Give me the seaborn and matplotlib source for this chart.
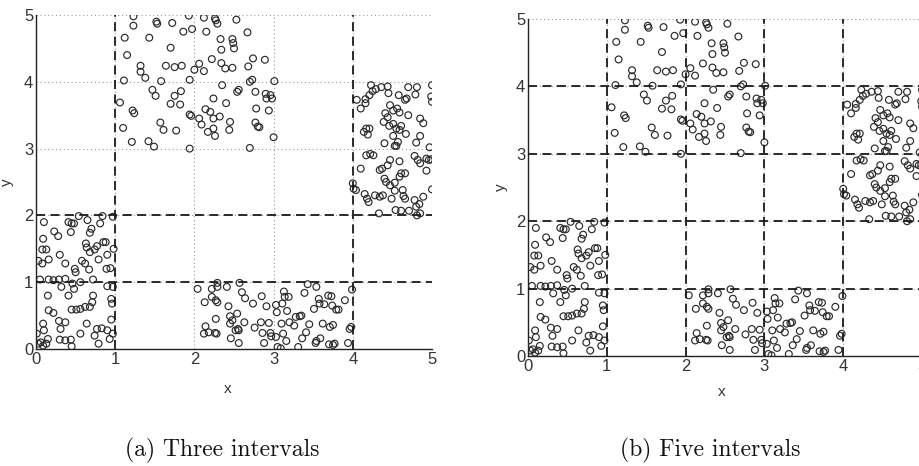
import matplotlib
matplotlib.use("Agg")
import matplotlib.pyplot as plt
import seaborn as sns
import pandas as pd

# ---- data ----
a_x = [0.10, 0.23, 0.28, 0.09, 0.41, 0.45, 0.48, 0.54, 0.65, 0.70, 0.81, 0.84, 0.97, 0.44, 0.68,
       0.08, 0.13, 0.03, 0.08, 0.16, 0.30, 0.37, 0.49, 0.50, 0.58, 0.62, 0.63, 0.64, 0.67, 0.68,
       0.74, 0.77, 0.79, 0.85, 0.88, 0.90, 0.89, 0.94, 0.98, 0.05, 0.16, 0.22, 0.29, 0.37, 0.32,
       0.46, 0.56, 0.72, 0.15, 0.41, 0.48, 0.72, 0.90, 0.97, 0.95, 0.96, 0.45, 0.51, 0.56, 0.62,
       0.68, 0.71, 0.16, 0.22, 0.09, 0.10, 0.29, 0.31, 0.37, 0.30, 0.37, 0.44, 0.45, 0.56, 0.64,
       0.74, 0.77, 0.83, 0.90, 0.79, 0.95, 0.97, 0.03, 0.09, 0.13, 0.15, 0.06, 0.93, 0.01]
a_y = [1.90, 1.76, 1.69, 1.65, 1.90, 1.88, 1.88, 1.99, 1.93, 1.80, 1.88, 1.99, 1.98, 1.75, 1.74,
       1.49, 1.49, 1.32, 1.28, 1.34, 1.41, 1.28, 1.20, 1.15, 1.32, 1.28, 1.58, 1.52, 1.19, 1.45,
       1.49, 1.54, 1.34, 1.60, 1.60, 1.41, 1.20, 1.21, 1.50, 1.04, 1.04, 1.03, 1.04, 1.05, 0.93,
       0.98, 1.00, 1.04, 0.80, 0.80, 0.90, 0.80, 0.94, 0.93, 0.75, 0.68, 0.59, 0.59, 0.60, 0.63,
       0.63, 0.70, 0.58, 0.54, 0.38, 0.28, 0.42, 0.30, 0.40, 0.14, 0.13, 0.14, 0.04, 0.23, 0.38,
       0.20, 0.30, 0.31, 0.28, 0.08, 0.44, 0.23, 0.08, 0.05, 0.08, 0.15, 0.10, 0.15, 0.23]

b_x = [1.23, 1.23, 1.52, 1.53, 1.72, 1.93, 2.12, 2.26, 2.27, 2.29, 2.53, 1.86, 1.97, 2.15, 2.67,
       1.12, 1.43, 2.33, 2.48, 2.49, 2.50, 1.15, 1.70, 2.34, 2.74, 2.89, 1.32, 1.64, 1.75, 1.84,
       2.00, 2.06, 2.22, 2.34, 2.39, 2.48, 2.68, 1.32, 1.38, 1.11, 1.58, 1.94, 2.12, 2.70, 2.73,
       3.01, 1.47, 1.51, 1.75, 1.83, 2.35, 2.56, 2.54, 2.77, 2.24, 2.40, 2.90, 2.91, 2.96, 2.98,
       1.06, 1.22, 1.24, 1.70, 1.82, 1.94, 1.96, 2.06, 2.09, 2.14, 2.20, 2.24, 2.32, 2.45, 2.78,
       2.94, 1.10, 1.57, 1.61, 1.77, 2.24, 2.26, 2.44, 2.77, 2.80, 2.82, 3.00, 1.21, 1.42, 1.49,
       1.94, 2.70, 2.17]
b_y = [4.98, 4.84, 4.90, 4.87, 4.88, 4.99, 4.96, 4.95, 4.92, 4.87, 4.93, 4.75, 4.79, 4.75, 4.74,
       4.66, 4.66, 4.64, 4.64, 4.58, 4.50, 4.40, 4.51, 4.48, 4.35, 4.33, 4.24, 4.24, 4.22, 4.24,
       4.18, 4.27, 4.34, 4.28, 4.20, 4.21, 4.23, 4.15, 4.06, 4.02, 4.01, 4.03, 4.16, 4.00, 4.03,
       4.01, 3.88, 3.79, 3.79, 3.86, 3.95, 3.88, 3.85, 3.85, 3.75, 3.68, 3.82, 3.75, 3.80, 3.75,
       3.69, 3.57, 3.53, 3.67, 3.66, 3.51, 3.49, 3.45, 3.36, 3.59, 3.55, 3.45, 3.48, 3.40, 3.60,
       3.57, 3.31, 3.39, 3.28, 3.27, 3.30, 3.19, 3.28, 3.39, 3.33, 3.32, 3.17, 3.10, 3.11, 3.03,
       3.00, 3.01, 3.25]

c_x = [4.05, 4.10, 4.16, 4.16, 4.21, 4.25, 4.29, 4.23, 4.36, 4.44, 4.45, 4.58, 4.66, 4.68, 4.70,
       4.81, 4.79, 5.00, 4.99, 5.00, 4.47, 4.41, 4.44, 4.51, 4.56, 4.59, 4.70, 4.85, 4.89, 4.14,
       4.17, 4.19, 4.21, 4.39, 4.46, 4.51, 4.55, 4.59, 4.61, 4.67, 4.85, 4.51, 4.40, 4.53, 4.55,
       4.57, 4.80, 4.97, 4.17, 4.22, 4.26, 4.47, 4.59, 4.78, 4.82, 4.85, 4.93, 4.96, 4.99, 4.10,
       4.34, 4.37, 4.44, 4.40, 4.42, 4.47, 4.53, 4.59, 4.61, 4.66, 4.93, 4.00, 4.01, 4.04, 4.15,
       4.18, 4.20, 4.28, 4.34, 4.38, 4.53, 4.49, 4.63, 4.66, 4.64, 4.54, 4.61, 4.71, 4.33, 4.78,
       4.80, 4.84, 4.85, 4.89, 5.00, 4.81]
c_y = [3.73, 3.60, 3.74, 3.68, 3.80, 3.86, 3.89, 3.95, 3.92, 3.93, 3.83, 3.80, 3.73, 3.75, 3.92,
       3.92, 3.81, 3.95, 3.78, 3.70, 3.65, 3.53, 3.47, 3.57, 3.60, 3.54, 3.50, 3.45, 3.38, 3.25,
       3.30, 3.21, 3.30, 3.40, 3.34, 3.37, 3.30, 3.28, 3.34, 3.22, 3.19, 3.19, 3.08, 3.04, 3.04,
       3.10, 3.09, 3.02, 2.90, 2.92, 2.90, 2.83, 2.81, 2.89, 2.83, 2.78, 2.85, 2.83, 2.84, 2.70,
       2.68, 2.70, 2.75, 2.55, 2.50, 2.45, 2.49, 2.58, 2.63, 2.63, 2.67, 2.48, 2.40, 2.38, 2.32,
       2.25, 2.20, 2.30, 2.28, 2.30, 2.37, 2.25, 2.38, 2.25, 2.29, 2.08, 2.07, 2.07, 2.03, 2.23,
       2.13, 2.17, 2.03, 2.28, 2.39, 2.00]

d_x = [2.04, 2.13, 2.22, 2.29, 2.29, 2.22, 2.27, 2.29, 2.41, 2.43, 2.57, 2.60, 2.64, 2.74, 2.85,
       2.91, 3.03, 3.04, 3.13, 3.14, 3.19, 3.11, 3.17, 3.39, 3.43, 3.54, 3.51, 3.57, 3.58, 3.64,
       3.69, 3.73, 3.74, 3.79, 3.82, 3.90, 3.99, 2.54, 2.45, 2.14, 2.18, 2.27, 2.26, 2.28, 2.45,
       2.48, 2.46, 2.52, 2.55, 2.56, 2.56, 2.63, 2.76, 2.84, 2.86, 2.88, 2.94, 2.96, 2.97, 3.03,
       3.05, 3.09, 3.10, 3.12, 3.16, 3.20, 3.26, 3.28, 3.31, 3.33, 3.35, 3.36, 3.41, 3.45, 3.53,
       3.54, 3.59, 3.62, 3.71, 3.75, 3.70, 3.75, 3.77, 3.96, 3.98, 3.94, 2.12]
d_y = [0.90, 0.70, 0.90, 0.99, 0.93, 0.78, 0.73, 0.70, 0.93, 0.64, 0.99, 0.85, 0.76, 0.68, 0.79,
       0.64, 0.66, 0.55, 0.86, 0.78, 0.78, 0.68, 0.57, 0.84, 0.97, 0.93, 0.60, 0.75, 0.68, 0.67,
       0.80, 0.79, 0.65, 0.59, 0.59, 0.73, 0.89, 0.53, 0.49, 0.34, 0.25, 0.45, 0.24, 0.23, 0.38,
       0.43, 0.16, 0.28, 0.30, 0.28, 0.09, 0.40, 0.32, 0.40, 0.24, 0.09, 0.39, 0.24, 0.19, 0.18,
       0.03, 0.01, 0.38, 0.23, 0.12, 0.40, 0.35, 0.48, 0.03, 0.49, 0.50, 0.16, 0.25, 0.37, 0.09,
       0.12, 0.16, 0.38, 0.33, 0.36, 0.07, 0.06, 0.08, 0.30, 0.33, 0.09, 0.23]

ticks = [0, 1, 2, 3, 4, 5]
v_three = [1, 4]
h_three = [1, 2]
v_five = [1, 2, 3, 4]
h_five = [1, 2, 3, 4]
captions = ["(a) Three intervals", "(b) Five intervals"]

df = pd.DataFrame({
    "x": a_x + b_x + c_x + d_x,
    "y": a_y + b_y + c_y + d_y,
})

sns.set_theme(style="white")
plt.rcParams["font.family"] = ["Liberation Sans", "DejaVu Sans"]

fig = plt.figure(figsize=(9.19, 4.66), dpi=100)
W, H = 919, 466
ax1 = fig.add_axes([36 / W, 1 - 349 / H, 396 / W, 334 / H])
ax2 = fig.add_axes([528 / W, 1 - 356 / H, 394 / W, 337 / H])

label_pos = {
    "ax1": ((0.485, -0.10), (-0.056, 0.50)),
    "ax2": ((0.492, -0.087), (-0.051, 0.50)),
}

for name, ax, vs, hs in [("ax1", ax1, v_three, h_three), ("ax2", ax2, v_five, h_five)]:
    ax.set_xlim(0, 5)
    ax.set_ylim(0, 5)
    ax.set_xticks(ticks)
    ax.set_yticks(ticks)
    ax.grid(True, linestyle=(0, (1, 2.5)), color="#9a9a9a", linewidth=0.8)
    ax.set_axisbelow(True)
    for s in ["top", "right"]:
        ax.spines[s].set_visible(False)
    for s in ["left", "bottom"]:
        ax.spines[s].set_color("#222222")
        ax.spines[s].set_linewidth(1.0)
    ax.tick_params(axis="both", direction="in", length=3, width=0.8, color="#333333",
                   labelsize=12, labelcolor="#333333", pad=2)
    sns.scatterplot(data=df, x="x", y="y", ax=ax, marker="o", s=24,
                    facecolor="none", edgecolor="#2a2a2a", linewidth=0.85, zorder=3)
    for v in vs:
        ax.axvline(v, color="#1a1a1a", linewidth=1.3, linestyle=(0, (5, 3)), zorder=4)
    for h in hs:
        ax.axhline(h, color="#1a1a1a", linewidth=1.3, linestyle=(0, (5, 3)), zorder=4)
    ax.set_xlabel("x", fontsize=11, color="#333333")
    ax.set_ylabel("y", fontsize=11, color="#333333")
    (xl, yl) = label_pos[name]
    ax.xaxis.set_label_coords(*xl)
    ax.yaxis.set_label_coords(*yl)

fig.text(222 / W, 1 - 450 / H, captions[0], ha="center", va="center",
         fontsize=17, family="cmr10", color="#111111")
fig.text(710 / W, 1 - 450 / H, captions[1], ha="center", va="center",
         fontsize=17, family="cmr10", color="#111111")

fig.savefig("out.png", dpi=100)
